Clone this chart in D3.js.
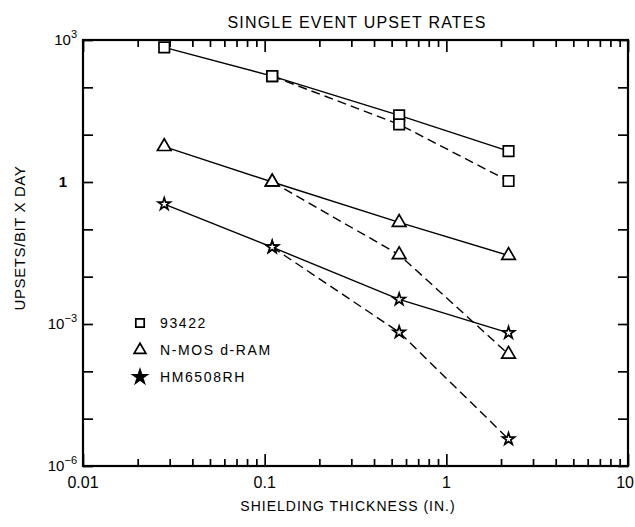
<!DOCTYPE html>
<html>
<head>
<meta charset="utf-8">
<script src="https://cdn.jsdelivr.net/npm/d3@7"></script>
<style>
  body { margin: 0; background: #fff; }
  svg { font-family: "Liberation Sans", Arial, sans-serif; }
</style>
</head>
<body>
<svg width="635" height="527"></svg>
<script>
// shielding thickness (in.)
const thickness = [0.028, 0.11, 0.55, 2.2];

// upsets/bit x day, solid = one curve, dashed = second curve (starts at 2nd point)
const sq_solid  = [700, 173, 25.6, 4.5];
const sq_dashed = [null, 173, 16.5, 1.05];
const tri_solid  = [5.6, 1.0, 0.14, 0.028];
const tri_dashed = [null, 1.0, 0.029, 2.3e-4];
const star_solid  = [0.34, 0.042, 0.0033, 6.5e-4];
const star_dashed = [null, 0.042, 6.7e-4, 3.7e-6];

const legendNames = ["93422", "N-MOS d-RAM", "HM6508RH"];
const xTicks = [0.01, 0.1, 1, 10];
const xTickLabels = ["0.01", "0.1", "1", "10"];
const yTicks = [1e3, 1, 1e-3, 1e-6];

const svg = d3.select("svg");
const mLeft = 83, mRight = 628, mTop = 40, mBottom = 466;

const x = d3.scaleLog().domain([0.01, 10]).range([mLeft, mRight]);
const y = d3.scaleLog().domain([1e-6, 1e3]).range([mBottom, mTop]);

// title
svg.append("text")
  .attr("x", 357).attr("y", 28)
  .attr("text-anchor", "middle")
  .style("font-size", "16px")
  .style("letter-spacing", "1.2px")
  .text("SINGLE EVENT UPSET RATES");

// frame
svg.append("rect")
  .attr("x", mLeft).attr("y", mTop)
  .attr("width", mRight - mLeft).attr("height", mBottom - mTop)
  .attr("fill", "none").attr("stroke", "#000").attr("stroke-width", 2.2);

// x axes: minor ticks inward, then longer decade ticks
const isMajor = v => Math.abs(Math.log10(v) - Math.round(Math.log10(v))) < 1e-6;
const xMinorAxis = (ax) => ax.tickValues(x.ticks().filter(v => !isMajor(v))).tickSize(-7).tickFormat("");
const xMajorAxis = (ax) => ax.tickValues(xTicks).tickSize(-12).tickFormat("");

[[d3.axisBottom, mBottom], [d3.axisTop, mTop]].forEach(([fn, pos]) => {
  svg.append("g").attr("transform", `translate(0,${pos})`).call(xMinorAxis(fn(x)));
  svg.append("g").attr("transform", `translate(0,${pos})`).call(xMajorAxis(fn(x)));
});

// y axes: decade ticks inward on both sides
const yDecades = d3.range(-6, 4).map(e => Math.pow(10, e));
svg.append("g").attr("transform", `translate(${mLeft},0)`)
  .call(d3.axisLeft(y).tickValues(yDecades).tickSize(-10).tickFormat(""));
svg.append("g").attr("transform", `translate(${mRight},0)`)
  .call(d3.axisRight(y).tickValues(yDecades).tickSize(-10).tickFormat(""));

svg.selectAll(".domain").remove();
svg.selectAll(".tick line").attr("stroke", "#000").attr("stroke-width", 1.7);

// x tick labels
svg.selectAll(".xl")
  .data(xTicks)
  .join("text")
  .attr("class", "xl")
  .attr("x", d => d === 10 ? 634 : x(d))
  .attr("y", mBottom + 22)
  .attr("text-anchor", d => d === 10 ? "end" : "middle")
  .style("font-size", "16px")
  .text((d, i) => xTickLabels[i]);

// y tick labels
yTicks.forEach(v => {
  const t = svg.append("text")
    .attr("x", v === 1 ? mLeft - 16 : mLeft - 6).attr("y", y(v) + 5)
    .attr("text-anchor", "end")
    .style("font-size", "15px");
  if (v === 1) {
    t.style("font-weight", "bold").text("1");
  } else {
    const e = Math.round(Math.log10(v));
    t.append("tspan").text("10");
    t.append("tspan").attr("dy", -7).style("font-size", "11px").text(e > 0 ? e : "\u2212" + (-e));
  }
});

// axis titles
svg.append("text")
  .attr("x", 348).attr("y", 511)
  .attr("text-anchor", "middle")
  .style("font-size", "14px")
  .style("letter-spacing", "1px")
  .text("SHIELDING THICKNESS (IN.)");

svg.append("text")
  .attr("transform", "translate(25,238) rotate(-90)")
  .attr("text-anchor", "middle")
  .style("font-size", "15px")
  .style("letter-spacing", "0.6px")
  .text("UPSETS/BIT X DAY");

// lines
const line = d3.line()
  .x(d => x(d[0]))
  .y(d => y(d[1]));

const series = [
  { vals: sq_solid, dash: null, sym: d3.symbolSquare, size: 110 },
  { vals: sq_dashed, dash: "9,5", sym: d3.symbolSquare, size: 110 },
  { vals: tri_solid, dash: null, sym: d3.symbolTriangle, size: 80 },
  { vals: tri_dashed, dash: "9,5", sym: d3.symbolTriangle, size: 80 },
  { vals: star_solid, dash: null, sym: d3.symbolStar, size: 45 },
  { vals: star_dashed, dash: "9,5", sym: d3.symbolStar, size: 45 }
];

const symbolFor = (sym, size) => d3.symbol().type(sym).size(size)();

series.forEach(s => {
  const pts = thickness.map((t, i) => [t, s.vals[i]]).filter(d => d[1] != null);
  svg.append("path")
    .datum(pts)
    .attr("d", line)
    .attr("fill", "none")
    .attr("stroke", "#000")
    .attr("stroke-width", 1.4)
    .attr("stroke-dasharray", s.dash);
});

series.forEach(s => {
  const pts = thickness.map((t, i) => [t, s.vals[i]]).filter(d => d[1] != null);
  svg.append("g").selectAll("path")
    .data(pts)
    .join("path")
    .attr("transform", d => `translate(${x(d[0])},${y(d[1])})`)
    .attr("d", symbolFor(s.sym, s.size))
    .attr("fill", "#fff")
    .attr("stroke", "#000")
    .attr("stroke-width", 1.7);
});

// legend
const legSyms = [d3.symbolSquare, d3.symbolTriangle, d3.symbolStar];
const legSizes = [70, 60, 60];
legendNames.forEach((name, i) => {
  const ly = 323 + i * 27;
  svg.append("path")
    .attr("transform", `translate(140,${ly})`)
    .attr("d", symbolFor(legSyms[i], legSizes[i]))
    .attr("fill", i === 2 ? "#000" : "#fff")
    .attr("stroke", "#000")
    .attr("stroke-width", 1.7);
  svg.append("text")
    .attr("x", 160).attr("y", ly + 5)
    .style("font-size", "14px")
    .style("letter-spacing", "1.6px")
    .text(name);
});
</script>
</body>
</html>
